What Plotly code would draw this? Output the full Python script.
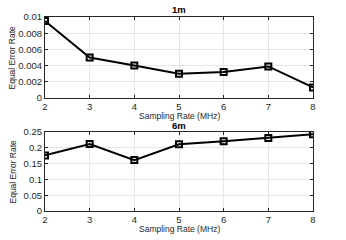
import plotly.graph_objects as go
from plotly.subplots import make_subplots

rates = [2, 3, 4, 5, 6, 7, 8]
eer_1m = [0.0095, 0.0050, 0.0040, 0.0030, 0.0032, 0.0039, 0.0013]
eer_6m = [0.176, 0.212, 0.161, 0.211, 0.221, 0.231, 0.243]
titles = ["1m", "6m"]
xlabel = "Sampling Rate (MHz)"
ylabel = "Equal Error Rate"

W, H = 346, 240

def px_x(x):
    return x / W

def px_y(y):
    return 1 - y / H

fig = make_subplots(rows=2, cols=1)
for i, ys in enumerate([eer_1m, eer_6m]):
    fig.add_trace(go.Scatter(x=rates, y=ys, mode="lines+markers",
                             line=dict(color="black", width=2),
                             marker=dict(symbol="square-open", size=6, color="black",
                                         line=dict(width=2, color="black")),
                             showlegend=False), row=i + 1, col=1)

fam = "Liberation Sans, Arial, sans-serif"
font = dict(family=fam, size=9.5, color="#262626")
axis_common = dict(showline=True, linecolor="#262626", linewidth=1, mirror="ticks",
                   ticks="inside", ticklen=3, tickcolor="#262626",
                   showgrid=True, gridcolor="#e6e6e6", zeroline=False,
                   tickfont=font, automargin=False)
fig.update_xaxes(range=[2, 8], dtick=1, **axis_common)
fig.update_yaxes(**axis_common)

xl, xr = px_x(45), px_x(313)
tops = [17, 132]
bots = [98, 211]

fig.update_layout(
    width=W, height=H,
    margin=dict(l=0, r=0, t=0, b=0),
    plot_bgcolor="white", paper_bgcolor="white",
    font=font,
    xaxis=dict(domain=[xl, xr], anchor="y"),
    yaxis=dict(domain=[px_y(bots[0]), px_y(tops[0])], range=[0, 0.01], dtick=0.002, anchor="x"),
    xaxis2=dict(domain=[xl, xr], anchor="y2"),
    yaxis2=dict(domain=[px_y(bots[1]), px_y(tops[1])], range=[0, 0.25], dtick=0.05, anchor="x2"),
)

xc = (xl + xr) / 2
for i, t in enumerate(titles):
    fig.add_annotation(text="<b>%s</b>" % t, x=xc, xref="paper", y=px_y(tops[i] - 7), yref="paper",
                       yanchor="middle", showarrow=False, borderpad=0,
                       font=dict(family=fam, size=9.5, color="black"))
    fig.add_annotation(text=xlabel, x=xc, xref="paper", y=px_y(bots[i] + 18), yref="paper",
                       yanchor="middle", showarrow=False, borderpad=0,
                       font=dict(family=fam, size=8.5, color="#262626"))
    fig.add_annotation(text=ylabel, x=px_x(12), xref="paper",
                       y=(px_y(bots[i]) + px_y(tops[i])) / 2, yref="paper",
                       textangle=-90, xanchor="center", yanchor="middle", showarrow=False,
                       font=dict(family=fam, size=8.5, color="#262626"))

fig.write_html("out.html", config={"displayModeBar": False},
               post_script="document.body.style.margin='0';")
